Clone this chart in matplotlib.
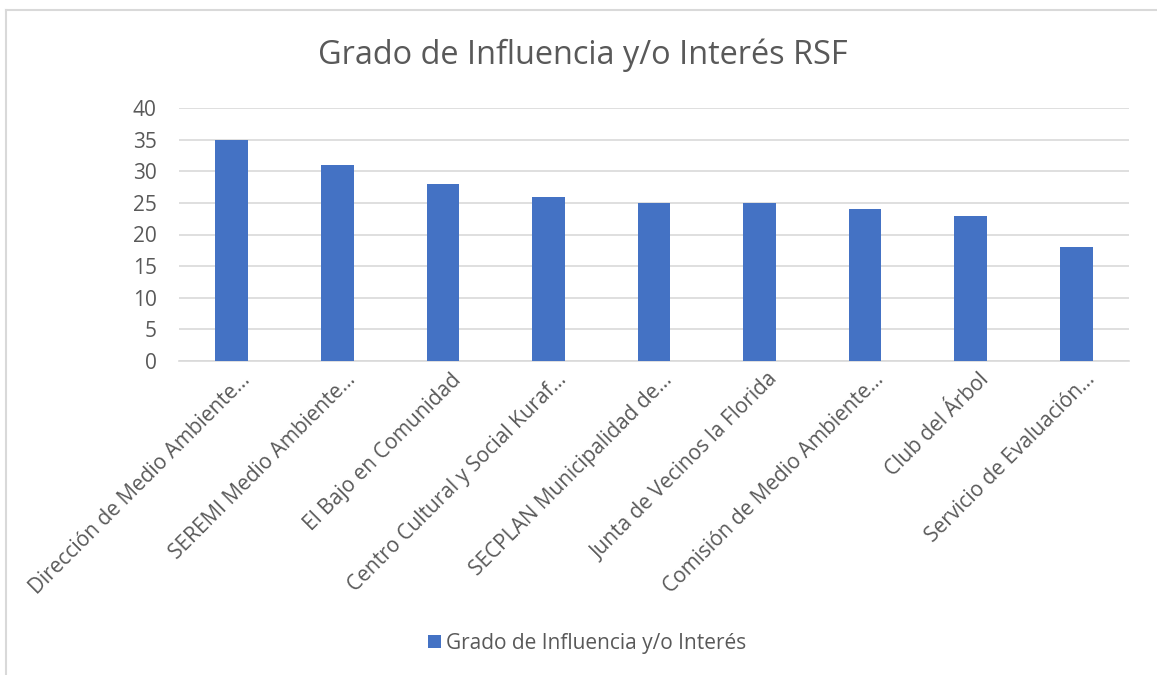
import matplotlib
matplotlib.use("Agg")
import matplotlib.pyplot as plt
import matplotlib.transforms as mtransforms
from matplotlib.lines import Line2D
from matplotlib.patches import Patch

plt.rcParams['font.family'] = ['Open Sans', 'DejaVu Sans']

categories = ["Dirección de Medio Ambiente…", "SEREMI Medio Ambiente…", "El Bajo en Comunidad",
              "Centro Cultural y Social Kuraf…", "SECPLAN Municipalidad de…",
              "Junta de Vecinos la Florida", "Comisión de Medio Ambiente…",
              "Club del Árbol", "Servicio de Evaluación…"]
values = [35, 31, 28, 26, 25, 25, 24, 23, 18]
yticks = [0, 5, 10, 15, 20, 25, 30, 35, 40]
title = "Grado de Influencia y/o Interés RSF"
series_name = "Grado de Influencia y/o Interés"

bar_color = "#4472C4"
text_color = "#595959"
grid_color = "#D9D9D9"

W, H = 1157, 675
fig = plt.figure(figsize=(W / 100, H / 100), dpi=100)
ax = fig.add_axes([179 / W, 1 - 361 / H, (1129 - 179) / W, (361 - 108) / H])

x = list(range(len(categories)))
ax.bar(x, values, width=0.31, color=bar_color, zorder=3)
ax.set_xlim(-0.5, len(categories) - 0.5)
ax.set_ylim(0, 40)
ax.set_yticks(yticks)
ax.set_yticklabels([str(v) for v in yticks], fontsize=15, color=text_color)
ax.yaxis.grid(True, color=grid_color, linewidth=1.2, zorder=0)
ax.tick_params(axis='y', length=0, pad=16)
ax.tick_params(axis='x', length=0, pad=6)
ax.set_xticks(x)
ax.set_xticklabels(categories, rotation=45, ha='right', va='top', rotation_mode='anchor',
                   fontsize=15, color=text_color)
offset = mtransforms.ScaledTranslation(8 / 100, 0, fig.dpi_scale_trans)
for lab in ax.get_xticklabels():
    lab.set_transform(lab.get_transform() + offset)
for s in ['top', 'right', 'left']:
    ax.spines[s].set_visible(False)
ax.spines['bottom'].set_color(grid_color)
ax.spines['bottom'].set_linewidth(1.2)

fig.text(583 / W, 1 - 55 / H, title, ha='center', va='center', fontsize=23.4, color=text_color)

leg = fig.legend(handles=[Patch(facecolor=bar_color, label=series_name)], loc='center',
                 bbox_to_anchor=(587 / W, 1 - 643 / H), frameon=False, fontsize=15,
                 handlelength=0.6, handleheight=0.6, handletextpad=0.25)
for t in leg.get_texts():
    t.set_color(text_color)

fig.add_artist(Line2D([6 / W, 6 / W], [0, 1 - 9.5 / H], color=grid_color, linewidth=1.5))
fig.add_artist(Line2D([6 / W, 1], [1 - 9.5 / H, 1 - 9.5 / H], color=grid_color, linewidth=1.5))

fig.savefig("out.png", dpi=100)
